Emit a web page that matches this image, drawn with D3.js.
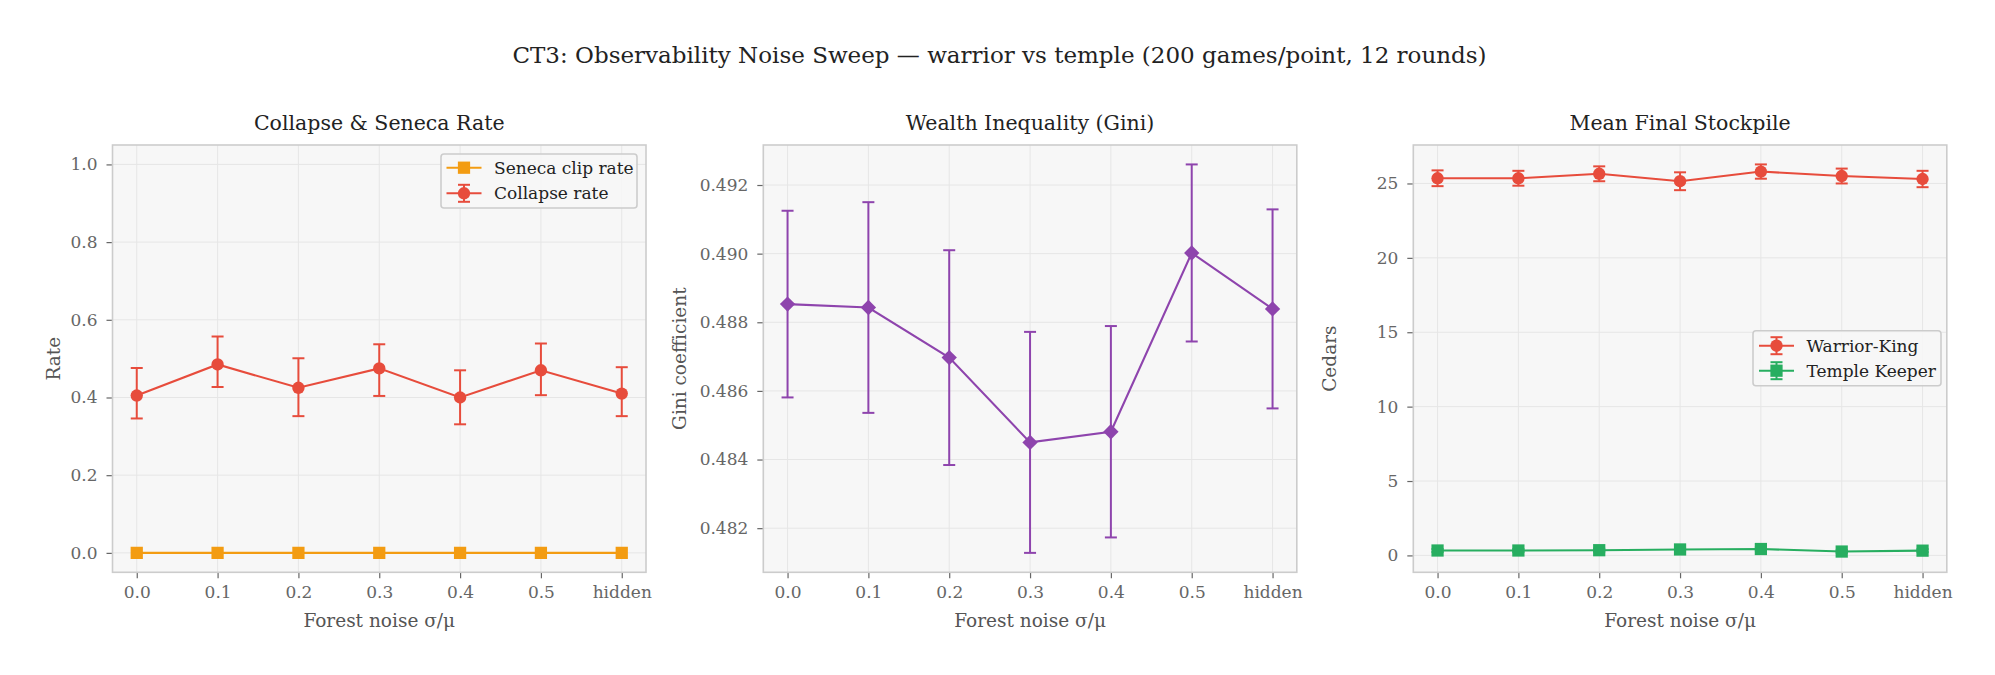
<!DOCTYPE html>
<html>
<head>
<meta charset="utf-8">
<script src="https://cdn.jsdelivr.net/npm/d3@7"></script>
<style>
  body { margin: 0; background: #fff; }
  svg text { font-family: "DejaVu Serif", serif; }
</style>
</head>
<body>
<div id="chart"></div>
<script>

// sweep points (x axis)
var noiseLabels = ["0.0", "0.1", "0.2", "0.3", "0.4", "0.5", "hidden"];

// panel 1: collapse rate with CI, seneca clip rate
var collapseRate = [0.405, 0.485, 0.425, 0.475, 0.400, 0.470, 0.410];
var collapseLo   = [0.346, 0.427, 0.352, 0.404, 0.331, 0.406, 0.352];
var collapseHi   = [0.476, 0.557, 0.501, 0.537, 0.470, 0.539, 0.478];
var senecaRate   = [0, 0, 0, 0, 0, 0, 0];

// panel 2: gini
var giniMean = [0.48853, 0.48843, 0.48697, 0.48450, 0.48481, 0.49002, 0.48839];
var giniErr  = [0.00272, 0.00307, 0.00313, 0.00322, 0.00308, 0.00258, 0.00290];

// panel 3: final stockpile
var warriorMean = [25.35, 25.35, 25.65, 25.15, 25.80, 25.50, 25.30];
var warriorErr  = [0.53, 0.50, 0.50, 0.60, 0.48, 0.50, 0.55];
var templeMean  = [0.33, 0.33, 0.35, 0.40, 0.43, 0.26, 0.32];
var templeErr   = [0.10, 0.10, 0.10, 0.11, 0.11, 0.09, 0.10];

var RED = "#e74c3c", ORANGE = "#f39c12", PURPLE = "#8e44ad", GREEN = "#27ae60";

var W = 1995, H = 675;
var panelW = 533.5, panelH = 427.3, panelTop = 145;
var panelLefts = [112.5, 763.3, 1413.3];

var svg = d3.select("#chart").append("svg")
    .attr("width", W)
    .attr("height", H);

svg.append("text")
    .attr("x", 999.5)
    .attr("y", 62.5)
    .attr("text-anchor", "middle")
    .style("font-size", "23px")
    .style("fill", "#222")
    .text("CT3: Observability Noise Sweep \u2014 warrior vs temple (200 games/point, 12 rounds)");

var xScale = d3.scaleLinear().domain([-0.3, noiseLabels.length - 0.7]).range([0, panelW]);

// matplotlib style auto limits: 5% margin
function autoDomain(lows, highs) {
  var lo = d3.min(lows), hi = d3.max(highs), m = (hi - lo) * 0.05;
  return [lo - m, hi + m];
}

function makePanel(idx, title, ylabel, yDomain, yTicks, tickFmt) {
  var g = svg.append("g")
      .attr("transform", "translate(" + panelLefts[idx] + "," + panelTop + ")");
  var yScale = d3.scaleLinear().domain(yDomain).range([panelH, 0]);

  g.append("rect")
      .attr("width", panelW)
      .attr("height", panelH)
      .attr("fill", "#f7f7f7");

  // grid
  g.selectAll(".vgrid").data(d3.range(noiseLabels.length)).enter().append("line")
      .attr("x1", function(d) { return xScale(d); })
      .attr("x2", function(d) { return xScale(d); })
      .attr("y1", 0).attr("y2", panelH)
      .attr("stroke", "#e6e6e6").attr("stroke-width", 1);
  g.selectAll(".hgrid").data(yTicks).enter().append("line")
      .attr("y1", function(d) { return yScale(d); })
      .attr("y2", function(d) { return yScale(d); })
      .attr("x1", 0).attr("x2", panelW)
      .attr("stroke", "#e6e6e6").attr("stroke-width", 1);

  // axes
  var xAxis = d3.axisBottom(xScale)
      .tickValues(d3.range(noiseLabels.length))
      .tickFormat(function(d) { return noiseLabels[d]; })
      .tickSize(6).tickPadding(8);
  var yAxis = d3.axisLeft(yScale)
      .tickValues(yTicks)
      .tickFormat(tickFmt)
      .tickSize(6).tickPadding(9);

  var xg = g.append("g").attr("transform", "translate(0," + panelH + ")").call(xAxis);
  var yg = g.append("g").call(yAxis);
  [xg, yg].forEach(function(a) {
    a.select(".domain").remove();
    a.selectAll(".tick line").attr("stroke", "#666").attr("stroke-width", 1.2);
    a.selectAll(".tick text")
      .style("font-family", "DejaVu Serif")
      .style("font-size", "17px")
      .attr("fill", "#666");
  });

  g.append("rect")
      .attr("width", panelW)
      .attr("height", panelH)
      .attr("fill", "none")
      .attr("stroke", "#cccccc")
      .attr("stroke-width", 1.6);

  g.append("text")
      .attr("x", panelW / 2)
      .attr("y", -15.5)
      .attr("text-anchor", "middle")
      .style("font-size", "20.5px")
      .style("fill", "#222")
      .text(title);

  g.append("text")
      .attr("x", panelW / 2)
      .attr("y", panelH + 54.5)
      .attr("text-anchor", "middle")
      .style("font-size", "18.5px")
      .style("fill", "#555")
      .text("Forest noise \u03c3/\u03bc");

  g.append("text")
      .attr("transform", "translate(" + (panelLefts[idx] === 112.5 ? -53 : -77) + "," + (panelH / 2) + ") rotate(-90)")
      .attr("text-anchor", "middle")
      .style("font-size", "18.5px")
      .style("fill", "#555")
      .text(ylabel);

  return { g: g, y: yScale };
}

function drawErrorBars(p, lo, hi, color, width) {
  var bars = p.g.append("g").selectAll("g").data(lo).enter().append("g");
  bars.append("line")
      .attr("x1", function(d, i) { return xScale(i); })
      .attr("x2", function(d, i) { return xScale(i); })
      .attr("y1", function(d, i) { return p.y(lo[i]); })
      .attr("y2", function(d, i) { return p.y(hi[i]); })
      .attr("stroke", color).attr("stroke-width", width);
  [lo, hi].forEach(function(arr) {
    bars.append("line")
        .attr("x1", function(d, i) { return xScale(i) - 6; })
        .attr("x2", function(d, i) { return xScale(i) + 6; })
        .attr("y1", function(d, i) { return p.y(arr[i]); })
        .attr("y2", function(d, i) { return p.y(arr[i]); })
        .attr("stroke", color).attr("stroke-width", width);
  });
}

function drawSeries(p, vals, color, shape, size) {
  var line = d3.line()
      .x(function(d, i) { return xScale(i); })
      .y(function(d) { return p.y(d); });
  p.g.append("path")
      .datum(vals)
      .attr("d", line)
      .attr("fill", "none")
      .attr("stroke", color)
      .attr("stroke-width", 2.1);
  p.g.append("g").selectAll("path").data(vals).enter().append("path")
      .attr("transform", function(d, i) { return "translate(" + xScale(i) + "," + p.y(d) + ")"; })
      .attr("d", d3.symbol().type(shape).size(size))
      .attr("fill", color);
}

function legendEntry(g, x, y, color, shape, size, withErr, label) {
  var e = g.append("g").attr("transform", "translate(" + x + "," + y + ")");
  e.append("line").attr("x1", 0).attr("x2", 35).attr("stroke", color).attr("stroke-width", 2.1);
  if (withErr) {
    e.append("line").attr("x1", 17.5).attr("x2", 17.5).attr("y1", -8.5).attr("y2", 8.5)
        .attr("stroke", color).attr("stroke-width", 2);
    [-8.5, 8.5].forEach(function(cy) {
      e.append("line").attr("x1", 11.5).attr("x2", 23.5).attr("y1", cy).attr("y2", cy)
          .attr("stroke", color).attr("stroke-width", 2);
    });
  }
  e.append("path")
      .attr("transform", "translate(17.5,0)")
      .attr("d", d3.symbol().type(shape).size(size))
      .attr("fill", color);
  e.append("text")
      .attr("x", 47.5)
      .attr("y", 0)
      .attr("dy", "0.35em")
      .style("font-size", "17px")
      .style("fill", "#222")
      .text(label);
}

function legendBox(g, x, y, w, h) {
  g.append("rect")
      .attr("x", x).attr("y", y)
      .attr("width", w).attr("height", h)
      .attr("rx", 3)
      .attr("fill", "#f7f7f7")
      .attr("fill-opacity", 0.85)
      .attr("stroke", "#cccccc")
      .attr("stroke-width", 1.6);
}

var fmt1 = d3.format(".1f"), fmt3 = d3.format(".3f"), fmt0 = d3.format("d");

// Panel 1
var p1 = makePanel(0, "Collapse & Seneca Rate", "Rate", [-0.05, 1.05],
    [0, 0.2, 0.4, 0.6, 0.8, 1.0], fmt1);
drawErrorBars(p1, collapseLo, collapseHi, RED, 2);
drawSeries(p1, collapseRate, RED, d3.symbolCircle, 120);
drawSeries(p1, senecaRate, ORANGE, d3.symbolSquare, 150);
legendBox(p1.g, 441 - 112.5, 154 - 145, 196, 54);
legendEntry(p1.g, 446.5 - 112.5, 167.7 - 145, ORANGE, d3.symbolSquare, 150, false, "Seneca clip rate");
legendEntry(p1.g, 446.5 - 112.5, 193.3 - 145, RED, d3.symbolCircle, 120, true, "Collapse rate");

// Panel 2
var giniLo = giniMean.map(function(d, i) { return d - giniErr[i]; });
var giniHi = giniMean.map(function(d, i) { return d + giniErr[i]; });
var p2 = makePanel(1, "Wealth Inequality (Gini)", "Gini coefficient", autoDomain(giniLo, giniHi),
    [0.482, 0.484, 0.486, 0.488, 0.490, 0.492], fmt3);
drawErrorBars(p2, giniLo, giniHi, PURPLE, 2);
drawSeries(p2, giniMean, PURPLE, d3.symbolDiamond2, 150);

// Panel 3
var wLo = warriorMean.map(function(d, i) { return d - warriorErr[i]; });
var wHi = warriorMean.map(function(d, i) { return d + warriorErr[i]; });
var tLo = templeMean.map(function(d, i) { return d - templeErr[i]; });
var tHi = templeMean.map(function(d, i) { return d + templeErr[i]; });
var p3 = makePanel(2, "Mean Final Stockpile", "Cedars", autoDomain(wLo.concat(tLo), wHi.concat(tHi)),
    [0, 5, 10, 15, 20, 25], fmt0);
drawErrorBars(p3, wLo, wHi, RED, 2);
drawSeries(p3, warriorMean, RED, d3.symbolCircle, 120);
drawErrorBars(p3, tLo, tHi, GREEN, 2);
drawSeries(p3, templeMean, GREEN, d3.symbolSquare, 150);
legendBox(p3.g, 1753 - 1413.3, 330.7 - 145, 188, 55);
legendEntry(p3.g, 1759 - 1413.3, 345.7 - 145, RED, d3.symbolCircle, 120, true, "Warrior-King");
legendEntry(p3.g, 1759 - 1413.3, 370.7 - 145, GREEN, d3.symbolSquare, 150, true, "Temple Keeper");

</script>
</body>
</html>
